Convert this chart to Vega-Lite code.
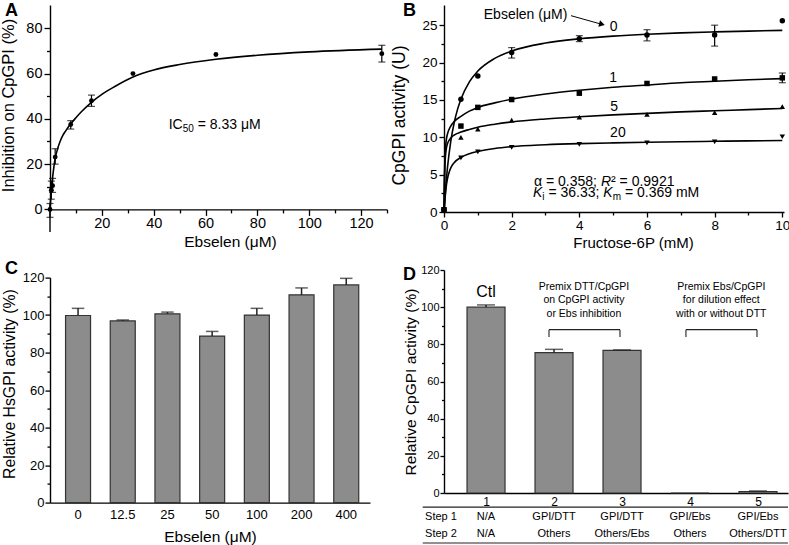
{
  "$schema": "https://vega.github.io/schema/vega-lite/v6.json",
  "padding": {"left": 0, "top": 1, "right": 0, "bottom": 0},
  "config": {
    "font": "Liberation Sans",
    "view": {"stroke": null},
    "axis": {"grid": false, "domainColor": "#000", "tickColor": "#000", "labelColor": "#000", "titleColor": "#000", "domainWidth": 1.4, "tickWidth": 1.3, "labelFont": "Liberation Sans", "titleFont": "Liberation Sans", "titleFontWeight": "normal", "labelOverlap": false, "labelFlush": false},
    "title": {"font": "Liberation Sans", "color": "#000", "fontWeight": "bold", "fontSize": 18, "anchor": "start", "frame": "group", "baseline": "alphabetic"},
    "text": {"font": "Liberation Sans", "color": "#000"}
  },
  "datasets": {
    "aCurve": [{"x":0,"y":0},{"x":0.25,"y":4.5},{"x":0.5,"y":8},{"x":0.77,"y":11.4},{"x":1,"y":14},{"x":1.5,"y":18.8},{"x":2,"y":22.5},{"x":3,"y":27},{"x":4,"y":30.3},{"x":5,"y":32.8},{"x":6,"y":34.6},{"x":8,"y":37.8},{"x":10,"y":40.5},{"x":12,"y":43},{"x":16,"y":47.3},{"x":20,"y":50.8},{"x":25,"y":54.3},{"x":32,"y":58.5},{"x":40,"y":61.6},{"x":50,"y":64},{"x":64,"y":66.3},{"x":80,"y":68.1},{"x":100,"y":69.6},{"x":128,"y":70.8}],
    "aPts": [{"x":0,"y":0},{"x":0.5,"y":8.5},{"x":1,"y":10.5},{"x":2,"y":23.1},{"x":8,"y":37.5},{"x":16,"y":48},{"x":32,"y":60},{"x":64,"y":68.4},{"x":128,"y":68.8}],
    "aErr": [{"x":0,"lo":-3.5,"hi":2.6},{"x":0.5,"lo":4.5,"hi":12.5},{"x":1,"lo":7.5,"hi":13.7},{"x":2,"lo":20,"hi":26.8},{"x":8,"lo":35.5,"hi":39.2},{"x":16,"lo":45.5,"hi":50.5},{"x":128,"lo":65.1,"hi":72.5}],
    "aExt": [{"x":0,"y":0,"y2":-10}],
    "aTxt": [{"x":45.8,"y":37.3,"t":"IC","k":"n"},{"x":51.2,"y":37.3,"t":"50","k":"s"},{"x":57.0,"y":37.3,"t":"= 8.33 μM","k":"n"}],
    "bCurve": [
      {"s":"0","x":0,"y":0},{"s":"0","x":0.05,"y":3.29},{"s":"0","x":0.1,"y":5.82},{"s":"0","x":0.2,"y":9.45},{"s":"0","x":0.3,"y":11.93},{"s":"0","x":0.4,"y":13.73},{"s":"0","x":0.5,"y":15.1},{"s":"0","x":0.75,"y":17.41},{"s":"0","x":1,"y":18.86},{"s":"0","x":1.5,"y":20.56},{"s":"0","x":2,"y":21.54},{"s":"0","x":3,"y":22.61},{"s":"0","x":4,"y":23.18},{"s":"0","x":5,"y":23.54},{"s":"0","x":6,"y":23.79},{"s":"0","x":7,"y":23.97},{"s":"0","x":8,"y":24.1},{"s":"0","x":9,"y":24.21},{"s":"0","x":10,"y":24.3},
      {"s":"1","x":0,"y":0},{"s":"1","x":0.01,"y":3.5},{"s":"1","x":0.02,"y":6},{"s":"1","x":0.04,"y":8.3},{"s":"1","x":0.07,"y":9.7},{"s":"1","x":0.1,"y":10.4},{"s":"1","x":0.2,"y":11.5},{"s":"1","x":0.3,"y":12.1},{"s":"1","x":0.5,"y":12.8},{"s":"1","x":0.75,"y":13.5},{"s":"1","x":1,"y":14},{"s":"1","x":1.5,"y":14.6},{"s":"1","x":2,"y":15.1},{"s":"1","x":3,"y":15.8},{"s":"1","x":4,"y":16.3},{"s":"1","x":5,"y":16.7},{"s":"1","x":6,"y":17},{"s":"1","x":7,"y":17.3},{"s":"1","x":8,"y":17.5},{"s":"1","x":9,"y":17.7},{"s":"1","x":10,"y":17.85},
      {"s":"5","x":0,"y":0},{"s":"5","x":0.01,"y":3},{"s":"5","x":0.02,"y":5.3},{"s":"5","x":0.04,"y":7.3},{"s":"5","x":0.07,"y":8.5},{"s":"5","x":0.1,"y":9.1},{"s":"5","x":0.2,"y":9.9},{"s":"5","x":0.3,"y":10.3},{"s":"5","x":0.5,"y":10.7},{"s":"5","x":0.75,"y":11.05},{"s":"5","x":1,"y":11.35},{"s":"5","x":1.5,"y":11.75},{"s":"5","x":2,"y":12.05},{"s":"5","x":3,"y":12.45},{"s":"5","x":4,"y":12.75},{"s":"5","x":5,"y":13},{"s":"5","x":6,"y":13.2},{"s":"5","x":7,"y":13.4},{"s":"5","x":8,"y":13.55},{"s":"5","x":9,"y":13.7},{"s":"5","x":10,"y":13.85},
      {"s":"20","x":0,"y":0},{"s":"20","x":0.03,"y":1.8},{"s":"20","x":0.06,"y":3.2},{"s":"20","x":0.1,"y":4.4},{"s":"20","x":0.15,"y":5.3},{"s":"20","x":0.2,"y":5.9},{"s":"20","x":0.3,"y":6.6},{"s":"20","x":0.5,"y":7.3},{"s":"20","x":0.75,"y":7.8},{"s":"20","x":1,"y":8.1},{"s":"20","x":1.5,"y":8.5},{"s":"20","x":2,"y":8.75},{"s":"20","x":3,"y":9},{"s":"20","x":4,"y":9.15},{"s":"20","x":5,"y":9.25},{"s":"20","x":6,"y":9.33},{"s":"20","x":7,"y":9.4},{"s":"20","x":8,"y":9.46},{"s":"20","x":9,"y":9.52},{"s":"20","x":10,"y":9.57}
    ],
    "bPts": [
      {"s":"0","x":0,"y":0.3},{"s":"0","x":0.5,"y":15.1},{"s":"0","x":1,"y":18.2},{"s":"0","x":2,"y":21.35},{"s":"0","x":4,"y":23.2},{"s":"0","x":6,"y":23.7},{"s":"0","x":8,"y":23.7},{"s":"0","x":10,"y":25.6},
      {"s":"1","x":0,"y":0.3},{"s":"1","x":0.5,"y":11.5},{"s":"1","x":1,"y":14},{"s":"1","x":2,"y":15.05},{"s":"1","x":4,"y":15.9},{"s":"1","x":6,"y":17.2},{"s":"1","x":8,"y":17.8},{"s":"1","x":10,"y":17.95},
      {"s":"5","x":0,"y":0.3},{"s":"5","x":0.5,"y":10},{"s":"5","x":1,"y":11.1},{"s":"5","x":2,"y":12.3},{"s":"5","x":4,"y":12.7},{"s":"5","x":6,"y":13.05},{"s":"5","x":8,"y":13.3},{"s":"5","x":10,"y":14.1},
      {"s":"20","x":0,"y":0.3},{"s":"20","x":0.5,"y":7.25},{"s":"20","x":1,"y":8.05},{"s":"20","x":2,"y":8.65},{"s":"20","x":4,"y":9.05},{"s":"20","x":6,"y":9.26},{"s":"20","x":8,"y":9.4},{"s":"20","x":10,"y":10.07}
    ],
    "bErr": [{"x":2,"lo":20.6,"hi":22},{"x":4,"lo":22.8,"hi":23.6},{"x":6,"lo":22.9,"hi":24.4},{"x":8,"lo":22.2,"hi":25},{"x":10,"lo":17.3,"hi":18.6}],
    "bLab": [{"x":5.016,"y":24.73,"t":"0"},{"x":5.0,"y":17.9,"t":"1"},{"x":5.03,"y":14.09,"t":"5"},{"x":5.14,"y":10.57,"t":"20"},{"x":2.41,"y":26.36,"t":"Ebselen (μM)"}],
    "bArrow": [{"x":3.754,"y":26.27,"x2":4.669,"y2":25.11}],
    "bF": [{"x":2.66,"y":4.05,"t":"α = 0.358;","k":"n"},{"x":4.638,"y":4.05,"t":"R","k":"i"},{"x":4.937,"y":4.05,"t":"² = 0.9921","k":"n"},{"x":2.63,"y":2.5,"t":"K","k":"i"},{"x":2.906,"y":2.5,"t":"i","k":"s"},{"x":3.087,"y":2.5,"t":"= 36.33;","k":"n"},{"x":4.71,"y":2.5,"t":"K","k":"i"},{"x":4.986,"y":2.5,"t":"m","k":"s"},{"x":5.347,"y":2.5,"t":"= 0.369 mM","k":"n"}],
    "cBars": [{"c":"0","v":99.8,"hi":103.6},{"c":"12.5","v":96.9,"hi":97.4},{"c":"25","v":100.7,"hi":101.6},{"c":"50","v":88.8,"hi":91.3},{"c":"100","v":100,"hi":103.6},{"c":"200","v":110.8,"hi":114.5},{"c":"400","v":116.1,"hi":119.6}],
    "dBars": [{"x":1,"v":100,"hi":101.2},{"x":2,"v":75.5,"hi":77.3},{"x":3,"v":76.7,"hi":77},{"x":4,"v":0,"hi":0},{"x":5,"v":0.8,"hi":1.1}],
    "dRules": [{"x":1.926,"x2":2.97,"y":87.9,"y2":87.9},{"x":1.926,"x2":1.926,"y":87.9,"y2":83.9},{"x":2.97,"x2":2.97,"y":87.9,"y2":83.9},{"x":3.94,"x2":4.985,"y":87.9,"y2":87.9},{"x":3.94,"x2":3.94,"y":87.9,"y2":83.9},{"x":4.985,"x2":4.985,"y":87.9,"y2":83.9},{"x":0.069,"x2":5.441,"y":-7.6,"y2":-7.6},{"x":0.069,"x2":5.441,"y":-26.9,"y2":-26.9}],
    "dTxt": [
      {"x":1,"y":107.9,"t":"Ctl","k":"big"},
      {"x":2.44,"y":111,"t":"Premix DTT/CpGPI","k":"ann"},{"x":2.44,"y":103.8,"t":"on CpGPI activity","k":"ann"},{"x":2.44,"y":96.5,"t":"or Ebs inhibition","k":"ann"},
      {"x":4.46,"y":111,"t":"Premix Ebs/CpGPI","k":"ann"},{"x":4.46,"y":103.8,"t":"for dilution effect","k":"ann"},{"x":4.46,"y":96.5,"t":"with or without DTT","k":"ann"},
      {"x":0.338,"y":-13.1,"t":"Step 1","k":"tab"},{"x":0.338,"y":-22,"t":"Step 2","k":"tab"},
      {"x":1,"y":-13.1,"t":"N/A","k":"tab"},{"x":1,"y":-22,"t":"N/A","k":"tab"},
      {"x":2,"y":-13.1,"t":"GPI/DTT","k":"tab"},{"x":2,"y":-22,"t":"Others","k":"tab"},
      {"x":3,"y":-13.1,"t":"GPI/DTT","k":"tab"},{"x":3,"y":-22,"t":"Others/Ebs","k":"tab"},
      {"x":4,"y":-13.1,"t":"GPI/Ebs","k":"tab"},{"x":4,"y":-22,"t":"Others","k":"tab"},
      {"x":5,"y":-13.1,"t":"GPI/Ebs","k":"tab"},{"x":5,"y":-22,"t":"Others/DTT","k":"tab"}
    ]
  },
  "hconcat": [
    {
      "bounds": "flush",
      "spacing": 67.6,
      "vconcat": [
        {
          "width": 337, "height": 204.4,
          "title": {"text": "A", "dx": -45, "offset": -14.5},
          "resolve": {"axis": {"x": "independent", "y": "independent"}},
          "layer": [
            {"data": {"name": "aCurve"}, "mark": {"type": "line", "color": "#000", "strokeWidth": 1.6, "interpolate": "monotone"},
             "encoding": {
               "x": {"field": "x", "type": "quantitative", "scale": {"domain": [0, 130], "nice": false, "zero": false, "padding": 0},
                     "axis": {"orient": "bottom", "title": "Ebselen (μM)", "titleFontSize": 15.5, "titlePadding": 5, "titleX": 180, "labelFontSize": 14.5, "labelPadding": 1, "labelOverlap": false, "values": [20,40,60,80,100,120], "tickSize": 6}},
               "y": {"field": "y", "type": "quantitative", "scale": {"domain": [0, 90.3], "nice": false, "zero": false, "padding": 0},
                     "axis": {"orient": "left", "title": "Inhibition on CpGPI (%)", "titleFontSize": 16.5, "titlePadding": 9, "titleY": 100, "labelFontSize": 14.5, "labelPadding": 2, "labelOverlap": false, "values": [0,20,40,60,80], "tickSize": 6}}
             }},
            {"data": {"name": "aExt"}, "mark": {"type": "rule", "color": "#000", "strokeWidth": 1.4},
             "encoding": {
               "x": {"field": "x", "type": "quantitative", "axis": {"orient": "bottom", "title": null, "labels": false, "domain": false, "values": [10,30,50,70,90,110,130], "tickSize": 3.5}},
               "y": {"field": "y", "type": "quantitative", "axis": {"orient": "left", "title": null, "labels": false, "domain": false, "values": [10,30,50,70], "tickSize": 3.5}},
               "y2": {"field": "y2"}}},
            {"data": {"name": "aErr"}, "mark": {"type": "rule", "color": "#000", "strokeWidth": 1.2},
             "encoding": {"x": {"field": "x", "type": "quantitative", "axis": null}, "y": {"field": "lo", "type": "quantitative", "axis": null}, "y2": {"field": "hi"}}},
            {"data": {"name": "aErr"}, "mark": {"type": "tick", "orient": "horizontal", "size": 7, "thickness": 1.2, "color": "#000"},
             "encoding": {"x": {"field": "x", "type": "quantitative", "axis": null}, "y": {"field": "lo", "type": "quantitative", "axis": null}}},
            {"data": {"name": "aErr"}, "mark": {"type": "tick", "orient": "horizontal", "size": 7, "thickness": 1.2, "color": "#000"},
             "encoding": {"x": {"field": "x", "type": "quantitative", "axis": null}, "y": {"field": "hi", "type": "quantitative", "axis": null}}},
            {"data": {"name": "aPts"}, "mark": {"type": "point", "filled": true, "color": "#000", "size": 24, "opacity": 1},
             "encoding": {"x": {"field": "x", "type": "quantitative", "axis": null}, "y": {"field": "y", "type": "quantitative", "axis": null}}},
            {"data": {"name": "aTxt"}, "transform": [{"filter": "datum.k === 'n'"}], "mark": {"type": "text", "fontSize": 14, "align": "left", "baseline": "middle"},
             "encoding": {"x": {"field": "x", "type": "quantitative", "axis": null}, "y": {"field": "y", "type": "quantitative", "axis": null}, "text": {"field": "t"}}},
            {"data": {"name": "aTxt"}, "transform": [{"filter": "datum.k === 's'"}], "mark": {"type": "text", "fontSize": 10, "align": "left", "baseline": "middle", "dy": 4},
             "encoding": {"x": {"field": "x", "type": "quantitative", "axis": null}, "y": {"field": "y", "type": "quantitative", "axis": null}, "text": {"field": "t"}}}
          ]
        },
        {
          "width": 320, "height": 225,
          "title": {"text": "C", "dx": -45, "offset": -6.5},
          "data": {"name": "cBars"},
          "resolve": {"axis": {"y": "independent"}},
          "encoding": {
            "x": {"field": "c", "type": "ordinal", "sort": null, "scale": {"paddingInner": 0.441, "paddingOuter": 0.3, "align": 0.58},
                  "axis": {"title": "Ebselen (μM)", "ticks": false, "tickSize": 0, "labelAngle": 0, "labelPadding": 6, "labelFontSize": 13, "titleFontSize": 15.5, "titlePadding": 7.5}}
          },
          "layer": [
            {"mark": {"type": "bar", "fill": "#8c8c8c", "stroke": "#333", "strokeWidth": 1.2},
             "encoding": {"y": {"field": "v", "type": "quantitative", "scale": {"domain": [0, 120], "nice": false},
               "axis": {"orient": "left", "title": "Relative HsGPI activity (%)", "titleFontSize": 15.8, "titlePadding": 5, "titleY": 106, "labelFontSize": 13, "labelPadding": 1, "labelOverlap": false, "values": [0,20,40,60,80,100,120], "tickSize": 5}}}},
            {"mark": {"type": "rule", "color": "#222", "strokeWidth": 1.5},
             "encoding": {"y": {"field": "v", "type": "quantitative", "axis": {"orient": "left", "title": null, "labels": false, "domain": false, "values": [10,30,50,70,90,110], "tickSize": 3}}, "y2": {"field": "hi"}}},
            {"mark": {"type": "tick", "orient": "horizontal", "size": 12.5, "thickness": 1.5, "color": "#222"},
             "encoding": {"y": {"field": "hi", "type": "quantitative", "axis": null}}}
          ]
        }
      ]
    },
    {
      "bounds": "flush",
      "spacing": 58,
      "vconcat": [
        {
          "width": 340, "height": 207,
          "title": {"text": "B", "dx": -41, "offset": -14.5},
          "resolve": {"axis": {"x": "independent", "y": "independent"}},
          "layer": [
            {"data": {"name": "bCurve"}, "mark": {"type": "line", "color": "#000", "strokeWidth": 1.6, "interpolate": "monotone"},
             "encoding": {
               "x": {"field": "x", "type": "quantitative", "scale": {"domain": [0, 10.05], "nice": false, "zero": false, "padding": 0},
                     "axis": {"orient": "bottom", "title": "Fructose-6P (mM)", "titleFontSize": 15, "titlePadding": 4, "titleX": 189, "labelFontSize": 13.5, "labelPadding": 1, "labelOverlap": false, "values": [0,2,4,6,8,10], "tickSize": 5}},
               "y": {"field": "y", "type": "quantitative", "scale": {"domain": [0, 27.7], "nice": false, "zero": false, "padding": 0},
                     "axis": {"orient": "left", "title": "CpGPI activity (U)", "titleFontSize": 17.5, "titlePadding": 13, "titleY": 110, "labelFontSize": 13.5, "labelPadding": 2, "labelOverlap": false, "values": [0,5,10,15,20,25], "tickSize": 5}},
               "detail": {"field": "s"}
             }},
            {"data": {"name": "bErr"}, "mark": {"type": "rule", "color": "#000", "strokeWidth": 1.2},
             "encoding": {
               "x": {"field": "x", "type": "quantitative", "axis": {"orient": "bottom", "title": null, "labels": false, "domain": false, "values": [1,3,5,7,9], "tickSize": 3}},
               "y": {"field": "lo", "type": "quantitative", "axis": {"orient": "left", "title": null, "labels": false, "domain": false, "values": [2.5,7.5,12.5,17.5,22.5], "tickSize": 3}},
               "y2": {"field": "hi"}}},
            {"data": {"name": "bErr"}, "mark": {"type": "tick", "orient": "horizontal", "size": 7, "thickness": 1.2, "color": "#000"},
             "encoding": {"x": {"field": "x", "type": "quantitative", "axis": null}, "y": {"field": "lo", "type": "quantitative", "axis": null}}},
            {"data": {"name": "bErr"}, "mark": {"type": "tick", "orient": "horizontal", "size": 7, "thickness": 1.2, "color": "#000"},
             "encoding": {"x": {"field": "x", "type": "quantitative", "axis": null}, "y": {"field": "hi", "type": "quantitative", "axis": null}}},
            {"data": {"name": "bPts"}, "mark": {"type": "point", "filled": true, "color": "#000", "size": 30, "opacity": 1},
             "encoding": {"x": {"field": "x", "type": "quantitative", "axis": null}, "y": {"field": "y", "type": "quantitative", "axis": null},
               "shape": {"field": "s", "type": "nominal", "scale": {"domain": ["0","1","5","20"], "range": ["circle","square","triangle-up","triangle-down"]}, "legend": null}}},
            {"data": {"name": "bLab"}, "mark": {"type": "text", "fontSize": 14, "align": "center", "baseline": "middle"},
             "encoding": {"x": {"field": "x", "type": "quantitative", "axis": null}, "y": {"field": "y", "type": "quantitative", "axis": null}, "text": {"field": "t"}}},
            {"data": {"name": "bArrow"}, "mark": {"type": "rule", "color": "#000", "strokeWidth": 1},
             "encoding": {"x": {"field": "x", "type": "quantitative", "axis": null}, "y": {"field": "y", "type": "quantitative", "axis": null}, "x2": {"field": "x2"}, "y2": {"field": "y2"}}},
            {"data": {"name": "bArrow"}, "mark": {"type": "point", "shape": "triangle-right", "filled": true, "color": "#000", "size": 45, "angle": 15, "opacity": 1},
             "encoding": {"x": {"field": "x2", "type": "quantitative", "axis": null}, "y": {"field": "y2", "type": "quantitative", "axis": null}}},
            {"data": {"name": "bF"}, "transform": [{"filter": "datum.k === 'n'"}], "mark": {"type": "text", "fontSize": 14, "align": "left", "baseline": "middle"},
             "encoding": {"x": {"field": "x", "type": "quantitative", "axis": null}, "y": {"field": "y", "type": "quantitative", "axis": null}, "text": {"field": "t"}}},
            {"data": {"name": "bF"}, "transform": [{"filter": "datum.k === 'i'"}], "mark": {"type": "text", "fontSize": 14, "fontStyle": "italic", "align": "left", "baseline": "middle"},
             "encoding": {"x": {"field": "x", "type": "quantitative", "axis": null}, "y": {"field": "y", "type": "quantitative", "axis": null}, "text": {"field": "t"}}},
            {"data": {"name": "bF"}, "transform": [{"filter": "datum.k === 's'"}], "mark": {"type": "text", "fontSize": 10, "align": "left", "baseline": "middle", "dy": 3.5},
             "encoding": {"x": {"field": "x", "type": "quantitative", "axis": null}, "y": {"field": "y", "type": "quantitative", "axis": null}, "text": {"field": "t"}}}
          ]
        },
        {
          "width": 344, "height": 223,
          "title": {"text": "D", "dx": -41, "offset": -20},
          "resolve": {"axis": {"y": "independent"}},
          "layer": [
            {"data": {"name": "dBars"}, "mark": {"type": "bar", "orient": "vertical", "width": 38, "fill": "#8c8c8c", "stroke": "#333", "strokeWidth": 1.2},
             "encoding": {
               "x": {"field": "x", "type": "quantitative", "scale": {"domain": [0.382, 5.441], "nice": false, "zero": false, "padding": 0},
                     "axis": {"title": null, "values": [1,2,3,4,5], "format": "d", "ticks": false, "tickSize": 0, "labelPadding": 3, "labelFontSize": 12, "labelOverlap": false}},
               "y": {"field": "v", "type": "quantitative", "scale": {"domain": [0, 120], "nice": false, "padding": 0},
                     "axis": {"orient": "left", "title": "Relative CpGPI activity (%)", "titleFontSize": 15.5, "titlePadding": 2, "labelFontSize": 11, "labelPadding": 1, "labelOverlap": false, "values": [0,20,40,60,80,100,120], "tickSize": 4}}
             }},
            {"data": {"name": "dBars"}, "mark": {"type": "rule", "color": "#222", "strokeWidth": 1.5},
             "encoding": {"x": {"field": "x", "type": "quantitative"}, "y": {"field": "v", "type": "quantitative", "axis": {"orient": "left", "title": null, "labels": false, "domain": false, "values": [10,30,50,70,90,110], "tickSize": 2.5}}, "y2": {"field": "hi"}}},
            {"data": {"name": "dBars"}, "transform": [{"filter": "datum.hi > 0"}], "mark": {"type": "tick", "orient": "horizontal", "size": 18, "thickness": 1.5, "color": "#222"},
             "encoding": {"x": {"field": "x", "type": "quantitative"}, "y": {"field": "hi", "type": "quantitative", "axis": null}}},
            {"data": {"name": "dRules"}, "mark": {"type": "rule", "color": "#222", "strokeWidth": 1.1},
             "encoding": {"x": {"field": "x", "type": "quantitative"}, "x2": {"field": "x2"}, "y": {"field": "y", "type": "quantitative", "axis": null}, "y2": {"field": "y2"}}},
            {"data": {"name": "dTxt"}, "transform": [{"filter": "datum.k === 'big'"}], "mark": {"type": "text", "fontSize": 16, "align": "center", "baseline": "middle"},
             "encoding": {"x": {"field": "x", "type": "quantitative"}, "y": {"field": "y", "type": "quantitative", "axis": null}, "text": {"field": "t"}}},
            {"data": {"name": "dTxt"}, "transform": [{"filter": "datum.k === 'ann'"}], "mark": {"type": "text", "fontSize": 10.5, "align": "center", "baseline": "middle"},
             "encoding": {"x": {"field": "x", "type": "quantitative"}, "y": {"field": "y", "type": "quantitative", "axis": null}, "text": {"field": "t"}}},
            {"data": {"name": "dTxt"}, "transform": [{"filter": "datum.k === 'tab'"}], "mark": {"type": "text", "fontSize": 11, "align": "center", "baseline": "middle"},
             "encoding": {"x": {"field": "x", "type": "quantitative"}, "y": {"field": "y", "type": "quantitative", "axis": null}, "text": {"field": "t"}}}
          ]
        }
      ]
    }
  ],
  "spacing": 2
}
